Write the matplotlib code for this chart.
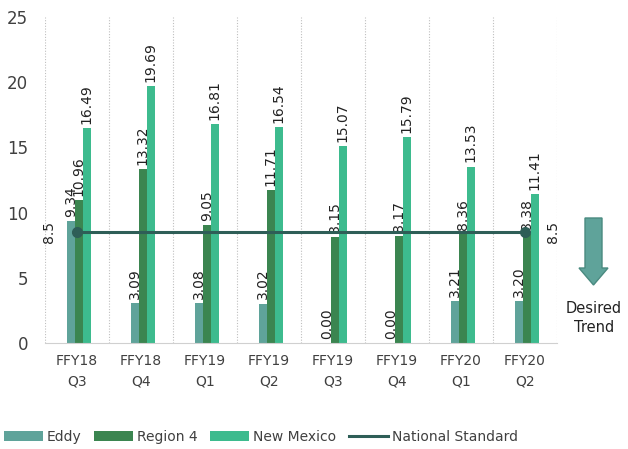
import numpy as np
import matplotlib.pyplot as plt
from matplotlib.patches import Polygon

quarters = ["FFY18\nQ3", "FFY18\nQ4", "FFY19\nQ1", "FFY19\nQ2",
            "FFY19\nQ3", "FFY19\nQ4", "FFY20\nQ1", "FFY20\nQ2"]
eddy = [9.34, 3.09, 3.08, 3.02, 0.00, 0.00, 3.21, 3.20]
region4 = [10.96, 13.32, 9.05, 11.71, 8.15, 8.17, 8.36, 8.38]
new_mexico = [16.49, 19.69, 16.81, 16.54, 15.07, 15.79, 13.53, 11.41]
national_standard = 8.5

series = [("Eddy", eddy, "#5fa39a"),
          ("Region 4", region4, "#3b8550"),
          ("New Mexico", new_mexico, "#3dbb8e")]

text_col = "#404040"
fig = plt.figure(figsize=(6.28, 4.49), dpi=100)
ax = fig.add_axes([45 / 628, 1 - 343 / 449, 512 / 628, 326 / 449])

x = np.arange(len(quarters))
w = 0.125
handles = []
for i, (name, vals, col) in enumerate(series):
    pos = x + (i - 1) * w + 0.03
    bars = ax.bar(pos, vals, width=w, color=col, label=name, zorder=2)
    handles.append(bars)
    for xp, v in zip(pos, vals):
        ax.annotate(f"{v:.2f}", (xp, v), xytext=(0, 3), textcoords="offset points",
                    rotation=90, ha="center", va="bottom", fontsize=10, color="#222222")

# national standard line across the categories
ns = [national_standard] * len(quarters)
line, = ax.plot(x, ns, color="#2e5e57", lw=2.2, zorder=3, label="National Standard")
handles.append(line)
ax.plot([x[0], x[-1]], [ns[0], ns[-1]], "o", color="#2e5e57", ms=7, zorder=4)
ax.annotate("8.5", (x[0], ns[0]), xytext=(-20, 0), textcoords="offset points",
            rotation=90, ha="center", va="center", fontsize=10, color="#222222")
ax.annotate("8.5", (x[-1], ns[-1]), xytext=(20, 0), textcoords="offset points",
            rotation=90, ha="center", va="center", fontsize=10, color="#222222")

ax.set_xlim(-0.5, len(quarters) - 0.5)
ax.set_ylim(0, 25)
ax.set_yticks(range(0, 26, 5))
ax.set_xticks(x)
ax.set_xticklabels(quarters, fontsize=10, color=text_col, linespacing=1.6)
ax.tick_params(axis="y", length=0, pad=12, labelsize=12, labelcolor=text_col)
ax.tick_params(axis="x", length=0, pad=8)

for b in np.arange(-0.5, len(quarters), 1.0):
    ax.axvline(b, color="#bfbfbf", lw=0.8, ls=(0, (1, 1.5)), zorder=1)

for s in ["top", "right", "left"]:
    ax.spines[s].set_visible(False)
ax.spines["bottom"].set_color("#d0d0d0")

fig.legend(handles, [h.get_label() for h in handles], loc="center",
           bbox_to_anchor=(261 / 628, 1 - 437 / 449), ncol=4,
           frameon=False, fontsize=10, handlelength=2.8, handletextpad=0.3,
           columnspacing=0.9, labelcolor=text_col)

# desired trend arrow on the right
W, H = 628, 449
pts = [(585, 218), (602, 218), (602, 268), (608, 268), (593.5, 285),
       (579, 268), (585, 268)]
arrow = Polygon([(px / W, 1 - py / H) for px, py in pts], closed=True,
                transform=fig.transFigure, facecolor="#5fa39a", edgecolor="#4a8a80", lw=1)
fig.patches.append(arrow)
fig.text(594 / W, 1 - 318 / H, "Desired\nTrend", ha="center", va="center",
         fontsize=10.5, color="#222222", linespacing=1.4)

fig.savefig("out.png", dpi=100)
